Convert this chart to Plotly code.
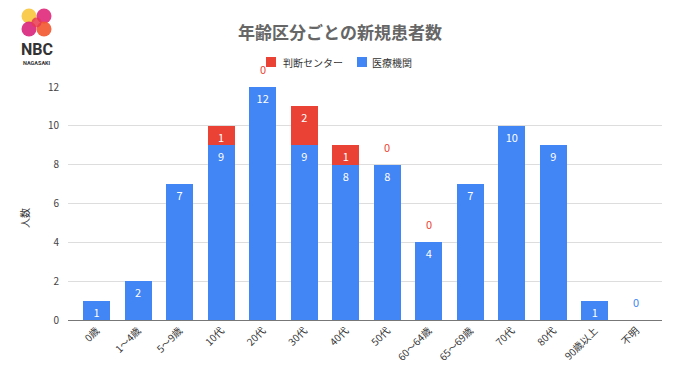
import plotly.graph_objects as go

categories = ["0歳", "1〜4歳", "5〜9歳", "10代", "20代", "30代", "40代", "50代",
              "60〜64歳", "65〜69歳", "70代", "80代", "90歳以上", "不明"]
iryo = [1, 2, 7, 9, 12, 9, 8, 8, 4, 7, 10, 9, 1, 0]
handan = [None, None, None, 1, 0, 2, 1, 0, 0, None, None, None, None, None]
series_names = ["判断センター", "医療機関"]

BLUE = "#4285F4"
RED = "#EA4335"
FONT = "Noto Sans CJK JP"

W, H = 680, 382
ML, MR, MT, MB = 68, 18, 87, 62
pw, ph = W - ML - MR, H - MT - MB

def inside_text(vals):
    return [str(v) if (v is not None and v > 0) else "" for v in vals]

fig = go.Figure()
fig.add_trace(go.Bar(
    x=categories, y=iryo, name=series_names[1], marker_color=BLUE, marker_line_width=0,
    text=inside_text(iryo), textposition="inside", insidetextanchor="end", textangle=0,
    constraintext="none",
    textfont=dict(color="white", size=11, family=FONT), showlegend=False,
))
fig.add_trace(go.Bar(
    x=categories, y=[v if v is not None else 0 for v in handan], name=series_names[0],
    marker_color=RED, marker_line_width=0,
    text=inside_text(handan), textposition="inside", insidetextanchor="end", textangle=0,
    constraintext="none",
    textfont=dict(color="white", size=11, family=FONT), showlegend=False,
))

# zero-value labels placed above the stack
for i, cat in enumerate(categories):
    total = iryo[i] + (handan[i] or 0)
    if handan[i] == 0:
        fig.add_annotation(x=cat, y=total, xref="x", yref="y", text="0",
                           showarrow=False, yanchor="bottom", yshift=8,
                           font=dict(color=RED, size=11, family=FONT))
    if iryo[i] == 0:
        fig.add_annotation(x=cat, y=total, xref="x", yref="y", text="0",
                           showarrow=False, yanchor="bottom", yshift=8,
                           font=dict(color=BLUE, size=11, family=FONT))

def px2paper(px, py):
    return (px - ML) / pw, (H - MB - py) / ph

def square(cx, cy, s, color):
    x0, y1 = px2paper(cx - s / 2, cy - s / 2)
    x1, y0 = px2paper(cx + s / 2, cy + s / 2)
    fig.add_shape(type="rect", xref="paper", yref="paper", x0=x0, x1=x1, y0=y0, y1=y1,
                  fillcolor=color, line_width=0, layer="above")

def label(px, py, text, size, color, family, anchor="left", angle=0):
    x, y = px2paper(px, py)
    fig.add_annotation(x=x, y=y, xref="paper", yref="paper", text=text, showarrow=False,
                       font=dict(size=size, color=color, family=family),
                       xanchor=anchor, yanchor="middle", textangle=angle)

# legend (drawn manually to match spacing)
square(271, 62, 10, RED)
label(281, 62, series_names[0], 10, "#333", FONT)
square(362, 62, 10, BLUE)
label(370, 62, series_names[1], 10, "#333", FONT)

# y-axis title
label(24, 218, "人数", 10, "#333", FONT, "center", -90)

# logo
label(37, 49, "<b>NBC</b>", 16, "#333", "Roboto", "center")
label(37, 62.5, "<b>NAGASAKI</b>", 5.5, "#333", "Roboto", "center")

def circ(cx, cy, r, color, op):
    x0, y1 = px2paper(cx - r, cy - r)
    x1, y0 = px2paper(cx + r, cy + r)
    fig.add_shape(type="circle", xref="paper", yref="paper", x0=x0, x1=x1, y0=y0, y1=y1,
                  fillcolor=color, opacity=op, line_width=0, layer="above")

circ(29, 16, 7.5, "#F9C846", 0.95)
circ(44, 16, 7.5, "#E0287A", 0.9)
circ(29, 29, 7.5, "#D9247C", 0.9)
circ(44, 29, 7.5, "#F2572D", 0.9)
circ(36.5, 22.5, 5, "#E8384F", 0.85)

fig.update_layout(
    width=W, height=H,
    barmode="stack", bargap=0.35,
    paper_bgcolor="white", plot_bgcolor="white",
    margin=dict(l=ML, r=MR, t=MT, b=MB, autoexpand=False),
    font=dict(family=FONT, color="#444", size=10),
    title=dict(text="<b>年齢区分ごとの新規患者数</b>", x=0.5, xref="container",
               y=1 - 33 / H, yref="container", yanchor="middle", xanchor="center",
               font=dict(size=17, color="#666", family=FONT)),
    showlegend=False,
    xaxis=dict(range=[-0.69, 13.62], tickangle=-45, showgrid=False, automargin=False,
               showline=True, linecolor="#777", linewidth=1, ticks="",
               tickfont=dict(size=10, color="#333", family=FONT)),
    yaxis=dict(range=[0, 12], dtick=2, showgrid=True, gridcolor="#ddd", automargin=False,
               zeroline=False, ticks="", ticklabelstandoff=8,
               tickfont=dict(size=10, color="#444", family=FONT)),
)

fig.write_html("out.html", post_script="document.body.style.margin='0';",
               config={"displayModeBar": False})
